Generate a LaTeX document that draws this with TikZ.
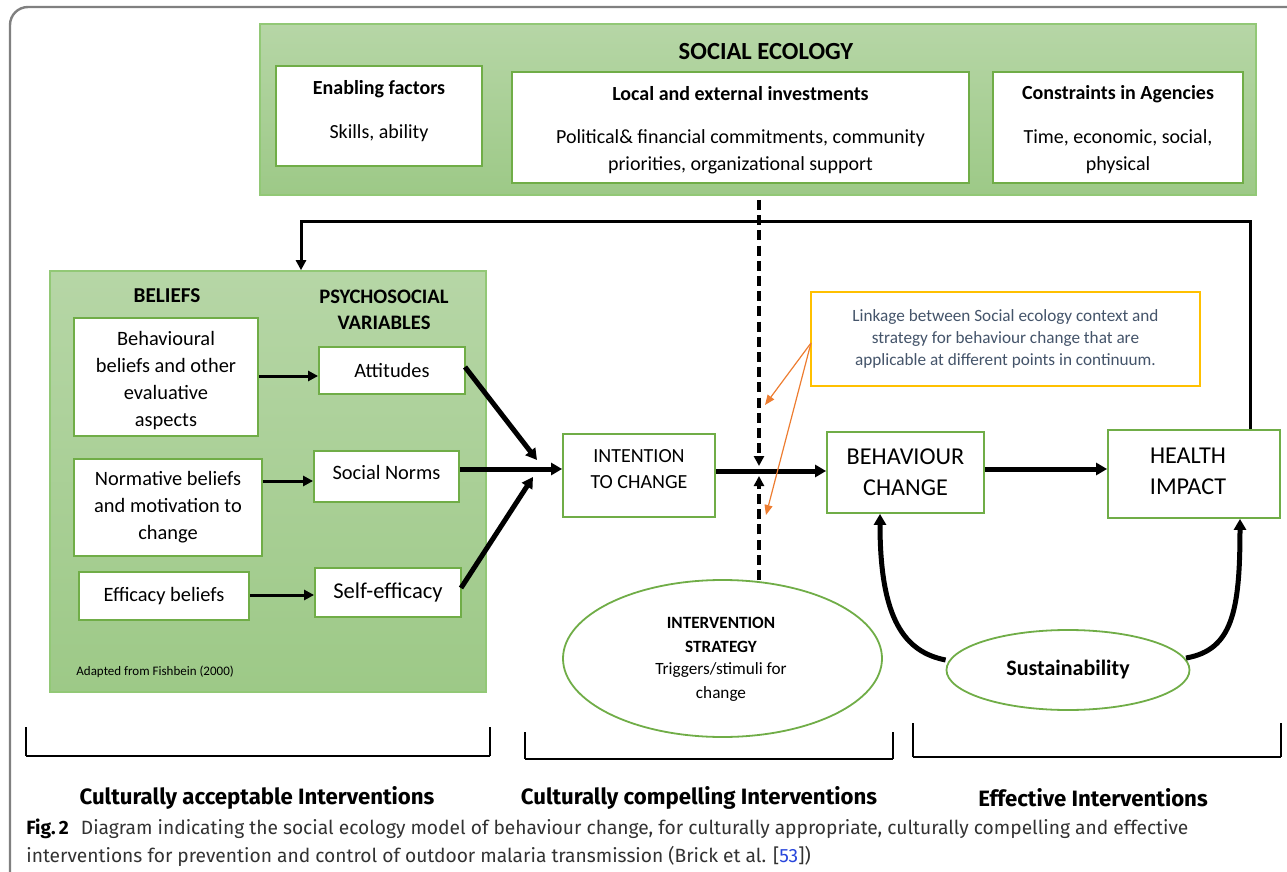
\documentclass[tikz,border=0pt]{standalone}
\usepackage{fontspec}
\setmainfont{Carlito}
\newfontfamily\capfont{Fira Sans}
\usetikzlibrary{arrows.meta}
\definecolor{gfillT}{RGB}{182,214,166}
\definecolor{gfillB}{RGB}{157,201,135}
\definecolor{gborder}{RGB}{146,200,118}
\definecolor{iborder}{RGB}{112,173,71}
\definecolor{yel}{RGB}{255,192,0}
\definecolor{orng}{RGB}{237,125,49}
\definecolor{ytext}{RGB}{68,84,106}
\definecolor{frame}{RGB}{128,128,128}
\definecolor{captxt}{RGB}{50,50,50}
\definecolor{reflink}{RGB}{40,70,220}
\newcommand{\fs}[1]{\fontsize{#1}{#1}\selectfont}
\tikzset{
  gbox/.style 2 args={draw=gborder, line width=0.8pt, top color=gfillT, bottom color=gfillB, minimum width=#1*0.5pt, minimum height=#2*0.5pt, inner sep=0pt},
  wbox/.style 2 args={draw=iborder, line width=0.9pt, fill=white, minimum width=#1*0.5pt, minimum height=#2*0.5pt, inner sep=0pt, align=center},
  wel/.style 2 args={draw=iborder, line width=0.9pt, fill=white, ellipse, minimum width=#1*0.5pt, minimum height=#2*0.5pt, inner sep=0pt, align=center},
  txt/.style={inner sep=0pt, align=center},
  thin/.style={line width=1.5pt, -{Triangle[length=5pt,width=5pt]}},
  thick/.style={line width=2.5pt, -{Triangle[length=5.5pt,width=6pt]}},
  dsh/.style={line width=1.6pt, dash pattern=on 5pt off 2.6pt, -{Triangle[length=5pt,width=5pt]}},
  org/.style={draw=orng, line width=0.6pt, -{Triangle[length=5pt,width=4pt]}},
  brk/.style={line width=0.7pt},
}
\usetikzlibrary{shapes.geometric}
\begin{document}
\begin{tikzpicture}[x=0.5pt,y=-0.5pt]
\useasboundingbox (0,0) rectangle (1287,872);
% outer frame
\draw[frame, line width=1.2pt, rounded corners=9pt] (10,880) -- (10,7) -- (1300,7);

% social ecology
\node[gbox={996}{171}] (soc) at (758,109.5) {};
\node[txt, font=\bfseries\fs{12.3}] (soct) at (766,52) {SOCIAL ECOLOGY};
\node[wbox={206}{100}] (enab) at (379,116) {};
\node[txt, font=\bfseries\fs{10}] (enabt) at (379,89) {Enabling factors};
\node[txt, font=\fs{10}] (enabb) at (379,133) {Skills, ability};
\node[wbox={457}{111}] (loc) at (740.5,127.5) {};
\node[txt, font=\bfseries\fs{10}] (loct) at (740.5,94) {Local and external investments};
\node[txt, font=\fs{10}] (locb1) at (740.5,138) {Political\& financial commitments, community};
\node[txt, font=\fs{10}] (locb2) at (740.5,165) {priorities, organizational support};
\node[wbox={250}{111}] (cons) at (1118,127.5) {};
\node[txt, font=\bfseries\fs{10}] (const) at (1118,94) {Constraints in Agencies};
\node[txt, font=\fs{10}] (consb1) at (1118,138) {Time, economic, social,};
\node[txt, font=\fs{10}] (consb2) at (1118,165) {physical};

% beliefs
\node[gbox={436}{421}] (bel) at (268,481.5) {};
\node[txt, font=\bfseries\fs{10.6}] (belt) at (167,296) {BELIEFS};
\node[txt, font=\bfseries\fs{10.3}] (psyt1) at (384,297) {PSYCHOSOCIAL};
\node[txt, font=\bfseries\fs{10.3}] (psyt2) at (384,323) {VARIABLES};
\node[wbox={184}{118}] (behav) at (166,377) {};
\node[txt, font=\fs{10.2}] (behavt) at (166,381) {Behavioural\\[3.3pt]beliefs and other\\[3.3pt]evaluative\\[3.3pt]aspects};
\node[wbox={146}{47}, font=\fs{10.2}] (att) at (392,370.5) {Attitudes};
\node[wbox={188}{97}, font=\fs{10.2}] (norm) at (168,507.5) {Normative beliefs\\[3.3pt]and motivation to\\[3.3pt]change};
\node[wbox={145}{51}] (sn) at (386.5,476.5) {};
\node[txt, font=\fs{10.2}] (snt) at (386.5,472) {Social Norms};
\node[wbox={170}{48}, font=\fs{10.2}] (eff) at (164,596) {Efficacy beliefs};
\node[wbox={146}{49}, font=\fs{11.3}] (se) at (388,592.5) {Self-efficacy};
\node[txt, font=\fs{6.5}, anchor=west] (adapt) at (76,672) {Adapted from Fishbein (2000)};

% main chain
\node[wbox={152}{83}] (int) at (639,475.5) {};
\node[txt, font=\fs{10}] (int1) at (639,456) {INTENTION};
\node[txt, font=\fs{10}] (int2) at (639,482) {TO CHANGE};
\node[wbox={157}{81}, font=\fs{12.1}] (beh) at (905.5,472.5) {BEHAVIOUR\\[3.5pt]CHANGE};
\node[wbox={172}{88}] (hea) at (1194,474) {};
\node[txt, font=\fs{12.1}] (hea1) at (1188,456) {HEALTH};
\node[txt, font=\fs{12.1}] (hea2) at (1188,487) {IMPACT};
\node[draw=yel, line width=1pt, fill=white, minimum width=389*0.5pt, minimum height=94*0.5pt, inner sep=0pt, align=center, font=\fs{8.6}, text=ytext] (yel) at (1005.5,339) {Linkage between Social ecology context and\\[2.5pt]strategy for behaviour change that are\\[2.5pt]applicable at different points in continuum.};
\node[wel={319}{157}] (intv) at (722.5,658.5) {};
\node[txt, font=\bfseries\fs{8.6}] (intv1) at (721,623) {INTERVENTION};
\node[txt, font=\bfseries\fs{8.6}] (intv2) at (721,647) {STRATEGY};
\node[txt, font=\fs{8.6}] (intv3) at (721,670) {Triggers/stimuli for};
\node[txt, font=\fs{8.6}] (intv4) at (721,694) {change};
\node[wel={243}{80}, font=\bfseries\fs{11}] (sus) at (1068,670) {Sustainability};

% coordinates
\coordinate (dtop) at (759,200);
\coordinate (dtip) at (759,466);
\coordinate (dbot) at (759,580);
\coordinate (utip) at (759,476);
\coordinate (fbR) at (1250,222);
\coordinate (fbL) at (301,222);

% feedback loop
\draw[thin] (hea.north -| fbR) -- (fbR) -- (fbL) -- (bel.north -| fbL);

% left arrows
\draw[thin] (behav.east |- 0,376) -- (att.west |- 0,376);
\draw[thin] (norm.east |- 0,481) -- (sn.west |- 0,481);
\draw[thin] (eff.east |- 0,595) -- (se.west |- 0,595);

% converging arrows
\draw[thick] (465,367) -- (537,460);
\draw[thick] (461,588) -- (533,477);
\draw[thick] (sn.east |- 0,469) -- (int.west |- 0,469);

% main arrows
\draw[thick] (int.east |- 0,471) -- (beh.west |- 0,471);
\draw[thick] (beh.east |- 0,469) -- (hea.west |- 0,469);

% dashed
\draw[dsh] (dtop) -- (dtip);
\draw[dsh] (dbot) -- (utip);

% orange
\coordinate (oy) at (811,343);
\draw[org] (oy) -- (765,405);
\draw[org] (oy) -- (766,515);

% curved sustainability arrows
\draw[thick] (sus.west |- 0,660) .. controls (905,652) and (880,620) .. (beh.south -| 880,0);
\draw[thick] (1186,658) .. controls (1232,650) and (1240,612) .. (hea.south -| 1240,0);

% brackets
\draw[brk] (26,727) -- (26,756);
\draw[brk] (490,727) -- (490,756);
\draw[line width=1pt] (26,756) -- (490,756);
\draw[brk] (525,732) -- (525,759);
\draw[brk] (893,732) -- (893,759);
\draw[line width=1pt] (525,759) -- (893,759);
\draw[brk] (913,723) -- (913,757);
\draw[brk] (1281,723) -- (1281,757);
\draw[line width=1pt] (913,757) -- (1281,757);

% labels
\node[txt, font=\capfont\bfseries\fs{11.1}] (l1) at (257,798) {Culturally acceptable Interventions};
\node[txt, font=\capfont\bfseries\fs{11.1}] (l2) at (699,798) {Culturally compelling Interventions};
\node[txt, font=\capfont\bfseries\fs{11.1}] (l3) at (1093,798) {Effective Interventions};

% caption
\node[txt, anchor=west, font=\capfont\fs{9.6}, text=captxt] (cap1) at (26,829) {\textbf{\color{black}Fig.\,2}\hspace{6pt}Diagram indicating the social ecology model of behaviour change, for culturally appropriate, culturally compelling and effective};
\node[txt, anchor=west, font=\capfont\fs{9.6}, text=captxt] (cap2) at (26,856) {interventions for prevention and control of outdoor malaria transmission (Brick et al. [{\color{reflink}53}])};
\end{tikzpicture}
\end{document}
